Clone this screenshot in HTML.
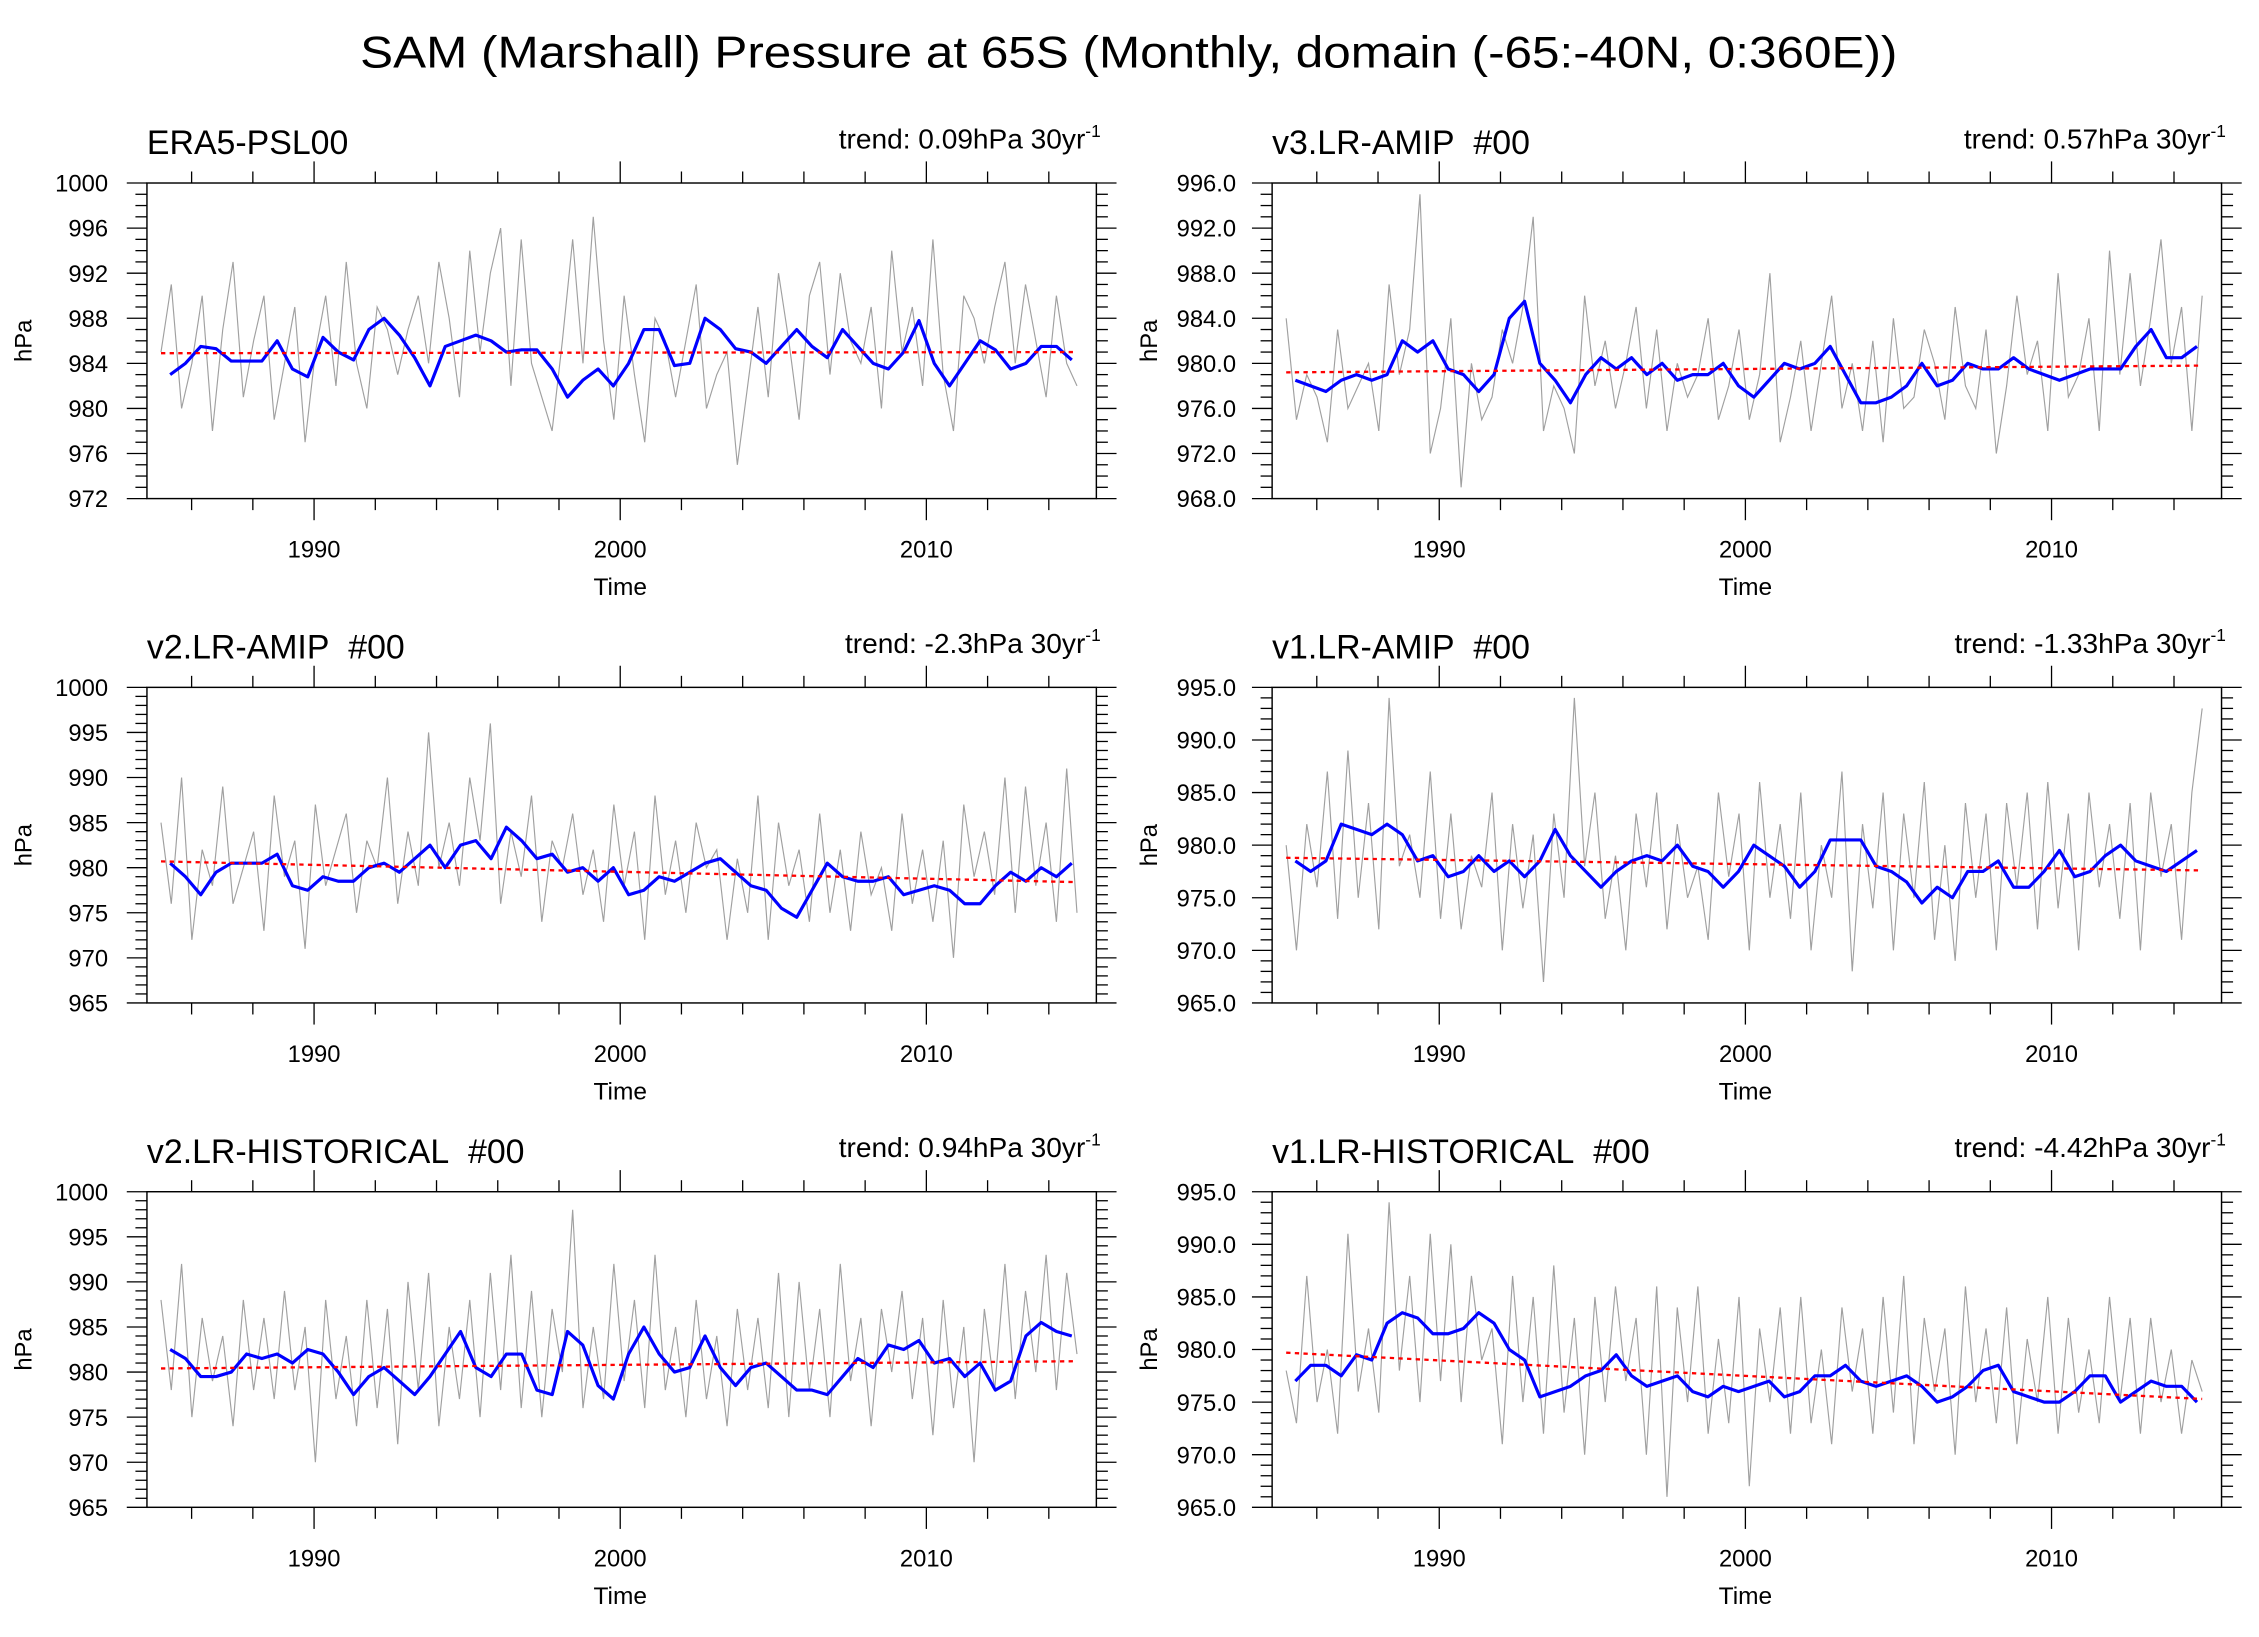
<!DOCTYPE html>
<html><head><meta charset="utf-8">
<style>
html,body{margin:0;padding:0;background:#fff;}
svg{display:block;font-family:"Liberation Sans",Arial,sans-serif;}
</style></head>
<body>
<svg id="fig" xmlns="http://www.w3.org/2000/svg" width="2259" height="1637" viewBox="0 0 1568 1136" preserveAspectRatio="none">
<rect width="1568" height="1136" fill="#fff"/>
<text x="250" y="47" font-size="31" textLength="1067" lengthAdjust="spacingAndGlyphs">SAM (Marshall) Pressure at 65S (Monthly, domain (-65:-40N, 0:360E))</text>
</svg>
<script>
// ---------- data ----------
const panelTitles = ["ERA5-PSL00","v3.LR-AMIP\u00a0\u00a0#00","v2.LR-AMIP\u00a0\u00a0#00","v1.LR-AMIP\u00a0\u00a0#00","v2.LR-HISTORICAL\u00a0\u00a0#00","v1.LR-HISTORICAL\u00a0\u00a0#00"];
const trendLabels = ["trend: 0.09hPa 30yr","trend: 0.57hPa 30yr","trend: -2.3hPa 30yr","trend: -1.33hPa 30yr","trend: 0.94hPa 30yr","trend: -4.42hPa 30yr"];
const yMins = [972,968,965,965,965,965];
const yMaxs = [1000,996,1000,995,1000,995];
const yStepMajor = [4,4,5,5,5,5];
const yDecimals = [0,1,0,1,0,1];
const xTickYears = [1990,2000,2010];
const trendStart = [984.9,979.2,980.7,978.8,980.4,979.7];
const trendEnd = [985.0,979.8,978.4,977.6,981.2,975.3];
const rawStart = 1985.0, rawEnd = 2014.92, smStart = 1985.3, smEnd = 2014.75;

const raw1 = [985,991,980,984,990,978,987,993,981,986,990,979,984,989,977,985,990,982,993,984,980,989,987,983,987,990,984,993,988,981,994,985,992,996,982,995,984,981,978,986,995,984,997,986,979,990,983,977,988,986,981,986,991,980,983,985,975,982,989,981,992,986,979,990,993,983,992,986,984,989,980,994,985,989,982,995,983,978,990,988,984,989,993,984,991,986,981,990,984,982];
const raw2 = [984,975,979,977,973,983,976,978,980,974,987,979,983,995,972,976,984,969,980,975,977,983,980,985,993,974,978,976,972,986,978,982,976,980,985,976,983,974,980,977,979,984,975,978,983,975,979,988,973,977,982,974,980,986,976,980,974,982,973,984,976,977,983,980,975,985,978,976,983,972,978,986,979,982,974,988,977,979,984,974,990,979,988,978,984,991,980,985,974,986];
const raw3 = [985,976,990,972,982,978,989,976,980,984,973,988,979,983,971,987,978,982,986,975,983,980,990,976,984,978,995,980,985,978,990,983,996,976,984,979,988,974,983,980,986,977,982,974,987,978,984,972,988,977,983,975,985,980,982,972,981,975,988,972,985,978,982,974,986,975,982,973,984,977,980,973,986,976,982,974,983,970,987,979,984,977,990,975,989,978,985,974,991,975];
const raw4 = [980,970,982,976,987,973,989,975,984,972,994,978,981,975,987,973,983,972,979,976,985,970,982,974,981,967,983,975,994,978,985,973,979,970,983,976,985,972,982,975,978,971,985,977,983,970,986,975,982,973,985,970,980,975,987,968,982,974,985,970,983,975,986,971,980,969,984,975,983,970,984,976,985,972,986,974,983,970,985,976,982,973,984,970,985,977,982,971,985,993];
const raw5 = [988,978,992,975,986,979,984,974,988,978,986,977,989,978,985,970,988,977,984,974,988,976,987,972,990,978,991,974,985,977,988,975,991,978,993,976,989,975,987,980,998,976,985,977,992,979,988,976,993,978,985,975,988,977,984,974,987,978,986,976,991,975,990,978,987,975,992,979,986,974,987,980,989,977,986,973,988,976,985,970,987,978,992,977,989,980,993,978,991,982];
const raw6 = [978,973,987,975,980,972,991,976,982,974,994,978,987,975,991,977,990,975,987,979,982,971,987,975,985,972,988,974,983,970,985,975,986,977,983,970,986,966,984,975,986,972,981,973,985,967,982,975,984,972,985,973,980,971,984,976,982,972,985,974,987,971,983,976,982,970,986,975,982,973,984,971,981,975,985,972,983,974,980,973,985,975,983,972,983,975,980,972,979,976];

const sm1 = [983,984,985.5,985.3,984.2,984.2,984.2,986,983.5,982.8,986.3,985,984.3,987,988,986.5,984.5,982,985.5,986,986.5,986,985,985.2,985.2,983.5,981,982.5,983.5,982,984,987,987,983.8,984,988,987,985.3,985,984,985.5,987,985.5,984.5,987,985.5,984,983.5,985,987.8,984,982,984,986,985.2,983.5,984,985.5,985.5,984.3];
const sm2 = [978.5,978,977.5,978.5,979,978.5,979,982,981,982,979.5,979,977.5,979,984,985.5,980,978.5,976.5,979,980.5,979.5,980.5,979,980,978.5,979,979,980,978,977,978.5,980,979.5,980,981.5,979,976.5,976.5,977,978,980,978,978.5,980,979.5,979.5,980.5,979.5,979,978.5,979,979.5,979.5,979.5,981.5,983,980.5,980.5,981.5];
const sm3 = [980.5,979,977,979.5,980.5,980.5,980.5,981.5,978,977.5,979,978.5,978.5,980,980.5,979.5,981,982.5,980,982.5,983,981,984.5,983,981,981.5,979.5,980,978.5,980,977,977.5,979,978.5,979.5,980.5,981,979.5,978,977.5,975.5,974.5,977.5,980.5,979,978.5,978.5,979,977,977.5,978,977.5,976,976,978,979.5,978.5,980,979,980.5];
const sm4 = [978.5,977.5,978.5,982,981.5,981,982,981,978.5,979,977,977.5,979,977.5,978.5,977,978.5,981.5,979,977.5,976,977.5,978.5,979,978.5,980,978,977.5,976,977.5,980,979,978,976,977.5,980.5,980.5,980.5,978,977.5,976.5,974.5,976,975,977.5,977.5,978.5,976,976,977.5,979.5,977,977.5,979,980,978.5,978,977.5,978.5,979.5];
const sm5 = [982.5,981.5,979.5,979.5,980,982,981.5,982,981,982.5,982,980,977.5,979.5,980.5,979,977.5,979.5,982,984.5,980.5,979.5,982,982,978,977.5,984.5,983,978.5,977,982,985,982,980,980.5,984,980.5,978.5,980.5,981,979.5,978,978,977.5,979.5,981.5,980.5,983,982.5,983.5,981,981.5,979.5,981,978,979,984,985.5,984.5,984];
const sm6 = [977,978.5,978.5,977.5,979.5,979,982.5,983.5,983,981.5,981.5,982,983.5,982.5,980,979,975.5,976,976.5,977.5,978,979.5,977.5,976.5,977,977.5,976,975.5,976.5,976,976.5,977,975.5,976,977.5,977.5,978.5,977,976.5,977,977.5,976.5,975,975.5,976.5,978,978.5,976,975.5,975,975,976,977.5,977.5,975,976,977,976.5,976.5,975];

const rawSeries = [raw1,raw2,raw3,raw4,raw5,raw6];
const smoothSeries = [sm1,sm2,sm3,sm4,sm5,sm6];

// ---------- drawing ----------
const NS = "http://www.w3.org/2000/svg";
const svg = document.getElementById("fig");
function mk(tag, attrs, parent){
  const e = document.createElementNS(NS, tag);
  for (const k in attrs) e.setAttribute(k, attrs[k]);
  (parent||svg).appendChild(e);
  return e;
}
const colX = [0, 781], rowY = [0, 350, 700];
for (let p = 0; p < 6; p++) {
  const dx = colX[p % 2], dy = rowY[Math.floor(p / 2)];
  const L = 102 + dx, R = 761 + dx, T = 127 + dy, B = 346 + dy;
  const g = mk("g", {});
  
  
  const xs = yr => 218 + dx + (yr - 1990) * 21.25;
  const ys = v => B - (v - yMins[p]) / (yMaxs[p] - yMins[p]) * (B - T);

  // titles
  const tt = mk("text", {x: L, y: 107 + dy, "font-size": 23.5}, g);
  tt.textContent = panelTitles[p];
  
  
  const tr = mk("text", {x: R + 3, y: 103 + dy, "font-size": 19.5, "text-anchor": "end"}, g);
  tr.textContent = trendLabels[p];
  const sup = mk("tspan", {dy: -8, "font-size": 12}, tr);
  sup.textContent = "-1";
  
  

  // x ticks (every 2 years minor, every 10 major), top & bottom, outward
  for (let yv = 1986; yv <= 2014; yv += 2) {
    const x = xs(yv), major = (yv % 10 === 0);
    const len = major ? 15 : 8;
    mk("line", {x1: x, x2: x, y1: T, y2: T - len, stroke: "#000", "stroke-width": 0.9}, g);
    mk("line", {x1: x, x2: x, y1: B, y2: B + len, stroke: "#000", "stroke-width": 0.9}, g);
  }
  xTickYears.forEach(yv => {
    const t = mk("text", {x: xs(yv), y: B + 41, "font-size": 16.5, "text-anchor": "middle"}, g);
    t.textContent = yv;
    
    
  });
  const xt = mk("text", {x: xs(2000), y: B + 67, "font-size": 17, "text-anchor": "middle"}, g);
  xt.textContent = "Time";
  
  

  // y ticks
  for (let v = yMins[p]; v <= yMaxs[p] + 1e-9; v += 1) {
    const y = ys(v), major = ((v - yMins[p]) % yStepMajor[p] === 0);
    const len = major ? 14 : 8;
    mk("line", {x1: L, x2: L - len, y1: y, y2: y, stroke: "#000", "stroke-width": 0.9}, g);
    mk("line", {x1: R, x2: R + len, y1: y, y2: y, stroke: "#000", "stroke-width": 0.9}, g);
    if (major) {
      const t = mk("text", {x: L - 27 + (yDecimals[p] ? 2 : 0), y: y + 6, "font-size": 16.5, "text-anchor": "end"}, g);
      t.textContent = v.toFixed(yDecimals[p]);
      
      
    }
  }
  const yt = mk("text", {x: 0, y: 0, "font-size": 16.5, "text-anchor": "middle",
    transform: `translate(${L - 80},${(T + B) / 2}) rotate(-90)`}, g);
  yt.textContent = "hPa";
  
  

  // raw series
  const raw = rawSeries[p];
  const rp = raw.map((v, i) => xs(rawStart + i * (rawEnd - rawStart) / (raw.length - 1)).toFixed(2) + "," + ys(v).toFixed(2)).join(" ");
  const rl = mk("polyline", {points: rp, fill: "none", stroke: "#a0a0a0", "stroke-width": 0.8}, g);
  
  

  // smoothed series
  const sm = smoothSeries[p];
  const sp = sm.map((v, i) => xs(smStart + i * (smEnd - smStart) / (sm.length - 1)).toFixed(2) + "," + ys(v).toFixed(2)).join(" ");
  const sl = mk("polyline", {points: sp, fill: "none", stroke: "#0000ff", "stroke-width": 2.2, "stroke-linejoin": "round"}, g);
  
  

  // trend line
  const tl = mk("line", {x1: xs(rawStart), y1: ys(trendStart[p]), x2: xs(rawEnd), y2: ys(trendEnd[p]),
    stroke: "#ff0000", "stroke-width": 1.6, "stroke-dasharray": "3,3"}, g);
  
  

  // frame
  const fr = mk("rect", {x: L, y: T, width: R - L, height: B - T, fill: "none", stroke: "#000", "stroke-width": 1}, g);
  
  
}
</script>
</body></html>
